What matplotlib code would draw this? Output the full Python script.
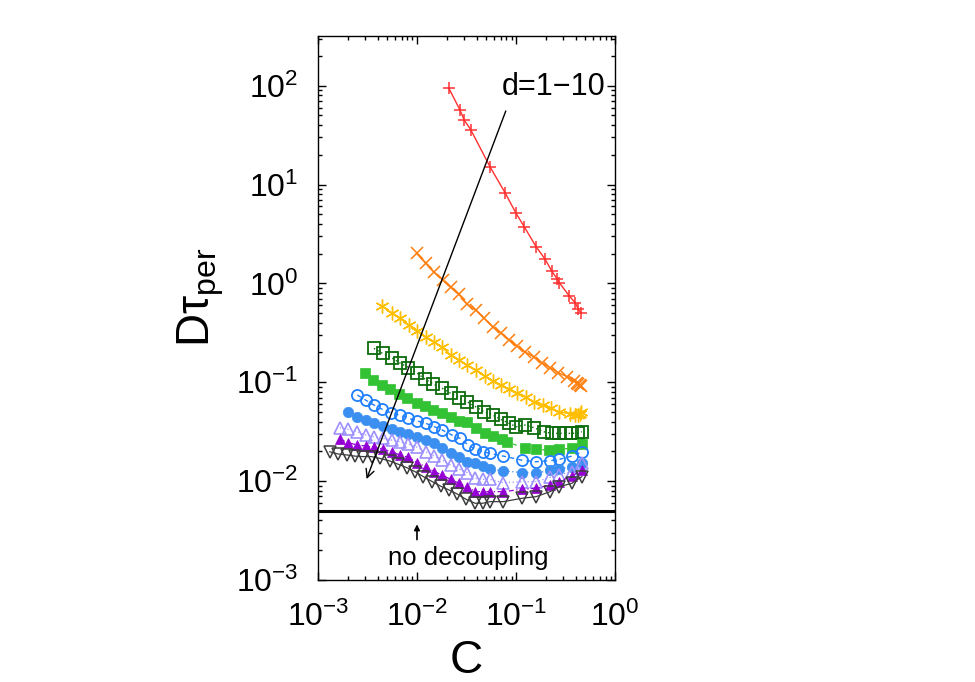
import matplotlib
matplotlib.use("Agg")
import matplotlib.pyplot as plt
from matplotlib.ticker import LogLocator, NullFormatter

plt.rcParams['font.family'] = ['Liberation Sans', 'DejaVu Sans']
plt.rcParams['mathtext.fontset'] = 'custom'
plt.rcParams['mathtext.rm'] = 'Liberation Sans'
plt.rcParams['mathtext.it'] = 'Liberation Sans:italic'

# ---- data ----
c_d1 = [0.021, 0.0272, 0.030, 0.0348, 0.0546, 0.0775, 0.0993, 0.121, 0.159, 0.196,
        0.229, 0.258, 0.274, 0.345, 0.394, 0.426, 0.45]
y_d1 = [94, 56.5, 44.8, 36, 15.1, 8.24, 5.17, 3.73, 2.35, 1.76,
        1.33, 1.12, 1.01, 0.745, 0.637, 0.545, 0.505]

c_d2 = [0.0099, 0.0123, 0.0149, 0.0182, 0.0219, 0.0264, 0.032, 0.039, 0.0475, 0.058,
        0.070, 0.0855, 0.1016, 0.123, 0.150, 0.182, 0.22, 0.267, 0.325, 0.38,
        0.41, 0.426, 0.44, 0.45]
y_d2 = [2.01, 1.59, 1.29, 1.08, 0.91, 0.775, 0.618, 0.537, 0.443, 0.364,
        0.316, 0.267, 0.232, 0.203, 0.181, 0.157, 0.141, 0.125, 0.114, 0.103,
        0.099, 0.096, 0.094, 0.092]

c_d3 = [0.0044, 0.00555, 0.00673, 0.0083, 0.01007, 0.01225, 0.0149, 0.018, 0.0219, 0.0266,
        0.0322, 0.039, 0.048, 0.058, 0.070, 0.085, 0.103, 0.125, 0.152, 0.186,
        0.224, 0.272, 0.351, 0.39, 0.42, 0.44, 0.455]
y_d3 = [0.589, 0.505, 0.443, 0.379, 0.332, 0.288, 0.257, 0.225, 0.188, 0.168,
        0.149, 0.133, 0.116, 0.104, 0.0937, 0.0848, 0.0773, 0.0703, 0.0635, 0.0588,
        0.0544, 0.0503, 0.0477, 0.0465, 0.047, 0.048, 0.050]

c_d4 = [0.00368, 0.0045, 0.00555, 0.0067, 0.0082, 0.0099, 0.012, 0.0146, 0.018, 0.0219,
        0.0266, 0.032, 0.039, 0.0475, 0.058, 0.070, 0.085, 0.10, 0.123, 0.152,
        0.189, 0.23, 0.27, 0.32, 0.37, 0.418, 0.46]
y_d4 = [0.220, 0.196, 0.177, 0.157, 0.141, 0.125, 0.108, 0.096, 0.0867, 0.0773,
        0.0697, 0.0635, 0.0565, 0.0503, 0.0466, 0.0421, 0.0384, 0.0355, 0.0369, 0.0347,
        0.0316, 0.0304, 0.0304, 0.0304, 0.0304, 0.031, 0.0316]

c_d5 = [0.003, 0.00362, 0.0044, 0.0053, 0.0066, 0.008, 0.0099, 0.012, 0.0146, 0.0178,
        0.0219, 0.0266, 0.0318, 0.0394, 0.0486, 0.059, 0.0717, 0.0806, 0.123, 0.159,
        0.217, 0.273, 0.365, 0.461]
y_d5 = [0.123, 0.105, 0.0937, 0.0848, 0.076, 0.0687, 0.0621, 0.0574, 0.0523, 0.0484,
        0.0441, 0.0408, 0.0399, 0.0342, 0.0308, 0.0286, 0.0265, 0.025, 0.0215, 0.021,
        0.0206, 0.021, 0.0215, 0.0237]

c_d6 = [0.0025, 0.00303, 0.00368, 0.00447, 0.00542, 0.0067, 0.0082, 0.0099, 0.0123, 0.015,
        0.018, 0.0224, 0.0272, 0.033, 0.0386, 0.0461, 0.0546, 0.0745, 0.114, 0.159,
        0.22, 0.273, 0.365, 0.461]
y_d6 = [0.0743, 0.0661, 0.0588, 0.0532, 0.0492, 0.0466, 0.0431, 0.0408, 0.0384, 0.0355,
        0.0329, 0.0293, 0.0271, 0.0232, 0.021, 0.0198, 0.0191, 0.0179, 0.0163, 0.0157,
        0.0161, 0.0166, 0.0179, 0.0198]

c_d7 = [0.00202, 0.0025, 0.00303, 0.00368, 0.00457, 0.00555, 0.0067, 0.0082, 0.0101, 0.0123,
        0.0149, 0.018, 0.0219, 0.0267, 0.0322, 0.0386, 0.0461, 0.0546, 0.0745, 0.114,
        0.159, 0.22, 0.273, 0.365, 0.461]
y_d7 = [0.0503, 0.0441, 0.0415, 0.039, 0.0361, 0.0334, 0.0316, 0.0299, 0.0277, 0.026,
        0.0241, 0.0215, 0.0194, 0.0177, 0.0157, 0.0151, 0.0142, 0.0132, 0.0127, 0.0122,
        0.012, 0.0129, 0.0132, 0.014, 0.0153]

c_d8 = [0.00167, 0.00202, 0.0025, 0.00305, 0.00368, 0.0045, 0.00555, 0.0067, 0.0082, 0.0101,
        0.0123, 0.0149, 0.018, 0.0219, 0.0267, 0.0322, 0.0386, 0.0461, 0.0546, 0.0745,
        0.114, 0.159, 0.22, 0.273, 0.365, 0.461]
y_d8 = [0.0347, 0.0334, 0.0316, 0.0293, 0.0281, 0.0271, 0.026, 0.025, 0.0237, 0.022,
        0.0198, 0.0179, 0.0163, 0.0146, 0.0132, 0.0122, 0.01067, 0.0104, 0.0104, 0.00964,
        0.00987, 0.00987, 0.0109, 0.0115, 0.0125, 0.0153]

c_d9 = [0.00167, 0.00202, 0.0025, 0.00305, 0.00368, 0.0045, 0.00555, 0.0067, 0.0082, 0.0101,
        0.0123, 0.0149, 0.018, 0.0219, 0.0267, 0.0322, 0.0386, 0.0461, 0.0546, 0.0745,
        0.114, 0.159, 0.22, 0.273, 0.365, 0.461]
y_d9 = [0.0265, 0.0245, 0.0232, 0.0226, 0.022, 0.021, 0.0198, 0.0184, 0.0174, 0.0153,
        0.014, 0.0125, 0.0115, 0.0104, 0.0095, 0.0088, 0.00782, 0.00782, 0.00782, 0.00782,
        0.00826, 0.00845, 0.00914, 0.00987, 0.0113, 0.0129]

c_d10 = [0.00132, 0.0016, 0.00195, 0.00236, 0.00287, 0.00348, 0.0042, 0.0053, 0.00648, 0.00787,
         0.0095, 0.0116, 0.0143, 0.0173, 0.0212, 0.0255, 0.0312, 0.0386, 0.0461, 0.0546,
         0.0745, 0.114, 0.159, 0.22, 0.273, 0.365, 0.461]
y_d10 = [0.0198, 0.0188, 0.0184, 0.0179, 0.0177, 0.0177, 0.017, 0.016, 0.0148, 0.0137,
         0.0125, 0.0111, 0.00987, 0.0089, 0.0081, 0.0074, 0.00655, 0.00597, 0.00597, 0.0062,
         0.0062, 0.0067, 0.00696, 0.00782, 0.0088, 0.0095, 0.0111]

no_decoupling = 0.005

series = [
    (c_d1, y_d1, dict(color='#ff3030', marker='+', ms=9, mew=1.1, ls='-', lw=1.0, mfc='none')),
    (c_d2, y_d2, dict(color='#ff7f0e', marker='x', ms=9, mew=1.1, ls='-', lw=1.0, mfc='none')),
    (c_d3, y_d3, dict(color='#ffbf00', marker=(6, 2, 0), ms=10, mew=1.0, ls='-', lw=1.0, mfc='none')),
    (c_d4, y_d4, dict(color='#0b6b0b', marker='s', ms=8, mew=1.3, ls=(0, (1, 2)), lw=1.0, mfc='none')),
    (c_d5, y_d5, dict(color='#33c233', marker='s', ms=7.5, mew=0.5, ls=(0, (3, 3)), lw=0.9)),
    (c_d6, y_d6, dict(color='#1e7fff', marker='o', ms=8, mew=1.3, ls=(0, (3, 3)), lw=1.0, mfc='none')),
    (c_d7, y_d7, dict(color='#3a8ff0', marker='o', ms=7.5, mew=0.5, ls=(0, (1, 2)), lw=0.9)),
    (c_d8, y_d8, dict(color='#9d90ff', marker='^', ms=8, mew=1.2, ls=(0, (1, 2)), lw=0.9, mfc='none')),
    (c_d9, y_d9, dict(color='#9400d3', marker='^', ms=7.5, mew=0.5, ls=(0, (4, 2, 1, 2)), lw=0.9)),
    (c_d10, y_d10, dict(color='#3c3c3c', marker='v', ms=8, mew=1.1, ls='-', lw=0.9, mfc='none')),
]

fig = plt.figure(figsize=(9.75, 6.82), dpi=100)
ax = fig.add_axes([0.326, 0.1496, 0.305, 0.798])

for cx, cy, st in series:
    ax.plot(cx, cy, **st)

ax.axhline(no_decoupling, color='black', lw=2.2)

ax.set_xscale('log')
ax.set_yscale('log')
ax.set_xlim(1e-3, 1e0)
ax.set_ylim(1e-3, 3.2e2)

ax.xaxis.set_major_locator(LogLocator(base=10, numticks=10))
ax.yaxis.set_major_locator(LogLocator(base=10, numticks=10))
ax.xaxis.set_minor_locator(LogLocator(base=10, subs=range(2, 10), numticks=20))
ax.yaxis.set_minor_locator(LogLocator(base=10, subs=range(2, 10), numticks=20))
ax.xaxis.set_minor_formatter(NullFormatter())
ax.yaxis.set_minor_formatter(NullFormatter())

ax.tick_params(which='both', direction='in', top=True, right=True, width=1.0)
ax.tick_params(which='major', length=6, labelsize=23)
ax.tick_params(which='minor', length=3)
ax.tick_params(axis='y', which='major', pad=14)
ax.tick_params(axis='x', which='major', pad=16)
for sp in ax.spines.values():
    sp.set_linewidth(1.0)

ax.set_xlabel('C', fontsize=33, labelpad=4)
ax.set_ylabel('D\u03c4$_{\\mathrm{per}}$', fontsize=33)
ax.yaxis.set_label_coords(-0.31, 0.52)

# d=1-10 arrow
ax.annotate('', xy=(0.00303, 0.00987), xytext=(0.0805, 58.9),
            arrowprops=dict(arrowstyle='->', color='black', lw=1.0, mutation_scale=15))
ax.text(0.0718, 97, 'd=1\u221210', fontsize=22, ha='left', va='center')

# no decoupling annotation
ax.annotate('', xy=(0.01, 0.0039), xytext=(0.01, 0.0024),
            arrowprops=dict(arrowstyle='-|>', color='black', lw=1.2, mutation_scale=8))
ax.text(0.0327, 0.00167, 'no decoupling', fontsize=18.5, ha='center', va='center')

fig.savefig('out.png', dpi=100)
